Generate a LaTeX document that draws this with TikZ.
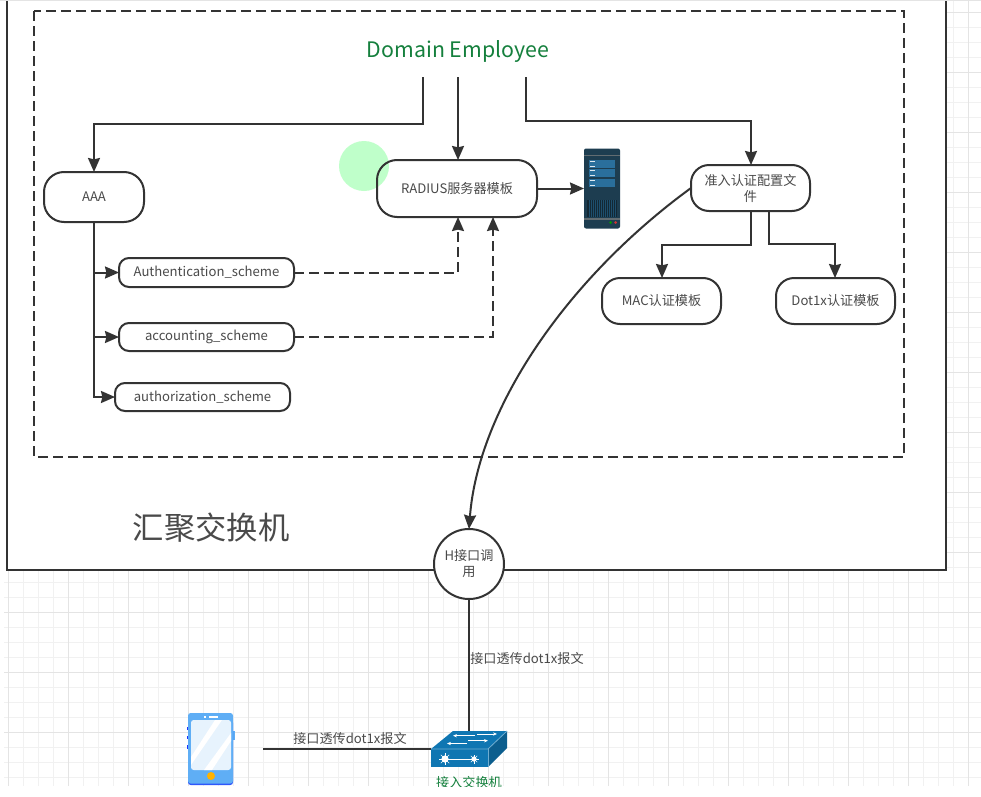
\documentclass[tikz,border=0pt]{standalone}
\usepackage{fontspec}
\setmainfont{Noto Sans CJK SC}
\usepackage{xcolor}
\usetikzlibrary{shapes,arrows.meta}
\definecolor{inkgray}{HTML}{333333}
\definecolor{textgray}{HTML}{4A4A4A}
\definecolor{titlegreen}{HTML}{15803D}
\definecolor{haloGreen}{HTML}{BFFFCA}
\definecolor{gridminor}{HTML}{F1F1F1}
\definecolor{gridmajor}{HTML}{E4E4E4}
\definecolor{serverblue}{HTML}{1D3D50}
\definecolor{serverbar}{HTML}{2A6F9C}
\definecolor{switchblue}{HTML}{0F76B2}
\definecolor{phoneblue}{HTML}{5FAEF5}
\newcommand{\lowline}[1]{\raisebox{-1.25pt}{#1}}
\begin{document}
\begin{tikzpicture}[x=0.75pt,y=-0.75pt,
    every node/.style={text=textgray,font=\fontsize{9.85}{12}\selectfont,outer sep=0pt,inner sep=0pt},
    pill/.style={draw=inkgray,line width=1.5pt,rounded corners=#1,align=center},
    pill/.default=15pt,
    wire/.style={draw=inkgray,line width=1.5pt},
    arr/.style={wire,-{Stealth[length=10.5pt,width=9pt,inset=1pt]}},
    dashwire/.style={arr,dash pattern=on 7.5pt off 3.75pt}]
    \useasboundingbox (0,0) rectangle (981,796);
    % canvas grid
    \foreach \gx in {8,23,...,983} {\draw[gridminor,line width=0.75pt] (\gx,0) -- (\gx,786);}
    \foreach \gy in {12,27,...,786} {\draw[gridminor,line width=0.75pt] (4,\gy) -- (981,\gy);}
    \foreach \gx in {8,68,...,983} {\draw[gridmajor,line width=0.75pt] (\gx,0) -- (\gx,786);}
    \foreach \gy in {12,72,...,786} {\draw[gridmajor,line width=0.75pt] (4,\gy) -- (981,\gy);}
    \fill[white] (0,0) rectangle (7,570);
    \fill[gridmajor] (0,0) rectangle (981,1);
    % switch box and dashed box
    \draw[wire,fill=white] (7,1) -- (7,570) -- (946,570) -- (946,1);
    \draw[wire,dash pattern=on 7.5pt off 3.75pt] (34,11) rectangle (904,457);
    \fill[haloGreen] (364,166) circle (25);
    \node[text=titlegreen,font=\fontsize{16}{18}\selectfont] (domain) at (458,52) {Domain Employee};
    \node[font=\fontsize{23.5}{26}\selectfont] (aggr) at (211,528) {汇聚交换机};
    \node[pill=15pt,minimum width=75pt,minimum height=37.5pt] (aaa) at (94,197) {\lowline{AAA}};
    \node[pill=15pt,minimum width=120pt,minimum height=42.75pt] (radius) at (457,188.5) {\lowline{RADIUS服务器模板}};
    \node[pill=7.5pt,minimum width=131.25pt,minimum height=21.75pt] (authn) at (206.5,272.5) {\lowline{Authentication\_scheme}};
    \node[pill=7.5pt,minimum width=131.25pt,minimum height=21pt] (acct) at (206.5,337) {\lowline{accounting\_scheme}};
    \node[pill=7.5pt,minimum width=131.25pt,minimum height=21pt] (authz) at (202.5,397) {\lowline{authorization\_scheme}};
    \node[pill=13.5pt,minimum width=89.25pt,minimum height=34.5pt] (access) at (750.5,188) {\lowline{准入认证配置文}\\\lowline{件}};
    \node[pill=13.5pt,minimum width=89.25pt,minimum height=34.5pt] (mac) at (661.5,301) {\lowline{MAC认证模板}};
    \node[pill=13.5pt,minimum width=89.25pt,minimum height=34.5pt] (dot1x) at (835.5,301) {\lowline{Dot1x认证模板}};
    \node[draw=inkgray,fill=white,line width=1.5pt,circle,minimum size=52.5pt,align=center] (hcall) at (469,564) {\lowline{H接口调}\\\lowline{用}};
    % server
    \node[fill=serverblue,rounded corners=1.5pt,minimum width=27pt,minimum height=60pt] (server) at (602,188.5) {};
    \fill[gray!70!serverblue] (584,154.5) rectangle (620,156);
    \foreach \by in {160,169,179} {
        \fill[serverbar] (589,\by) rectangle (615,\by+3.5);
        \fill[serverbar] (589,\by+4.3) rectangle (615,\by+7.8);
        \fill[white!85!serverbar] (590,\by+1.2) rectangle (594.5,\by+2.2);
        \fill[white!85!serverbar] (590,\by+5.5) rectangle (594.5,\by+6.5);
    }
    \fill[black!35!serverblue] (587,200) rectangle (617,217);
    \foreach \bx in {589,591,...,616} {\draw[serverbar!70!black,line width=0.4pt] (\bx,200) -- (\bx,217);}
    \fill[gray!70!serverblue] (584,217.5) rectangle (620,219.5);
    \fill[green!60!black] (610.5,222.5) circle (1.5);
    \fill[red!60!gray] (615.5,222.5) circle (1.5);
    % phone
    \fill[blue!70!phoneblue] (187,726.5) rectangle (189,730);
    \fill[blue!70!phoneblue] (187,735.5) rectangle (189,739);
    \fill[blue!70!phoneblue] (187,745) rectangle (189,748.5);
    \fill[phoneblue] (232,731) rectangle (235,739.5);
    \fill[blue!50!phoneblue,rounded corners=2pt] (188,720) rectangle (233,785);
    \fill[phoneblue,rounded corners=2pt] (188,713) rectangle (233,783.5);
    \fill[white!85!phoneblue,rounded corners=2pt] (191,720) rectangle (231,770);
    \fill[white] (191,757) -- (215,720) -- (222,720) -- (191,765) -- cycle;
    \fill[white] (204,770) -- (231,733) -- (231,741) -- (212,770) -- cycle;
    \fill[white] (204,716) rectangle (206,717.5);
    \fill[white] (209,716) rectangle (218,717.5);
    \fill[orange!60!yellow] (211,776) circle (4);
    % access switch
    \node[minimum width=57pt,minimum height=27pt] (switch) at (469,749) {};
    \fill[switchblue] (431,749) -- (453,731) -- (507,731) -- (488,749) -- cycle;
    \fill[switchblue!80!black] (488,749) -- (507,731) -- (507,748) -- (488,767) -- cycle;
    \fill[switchblue] (431,749) rectangle (488,767);
    \draw[white!40!switchblue,line width=0.6pt] (431,749) -- (488,749) -- (507,731);
    \draw[white!40!switchblue,line width=0.6pt] (488,749) -- (488,767);
    \foreach \ax/\ay/\bx in {475/735.7/453,477/734/497,467/743.5/447,468/740.7/488} {
        \draw[white,line width=0.6pt,-{Stealth[length=3pt,width=2.5pt]}] (\ax,\ay) -- (\bx,\ay);
    }
    \draw[white,line width=0.7pt] (445,759) -- (474,759);
    \fill[white] (445,759) circle (3.6);
    \fill[white] (474,759) circle (2.6);
    \foreach \ang in {0,45,...,315} {
        \draw[white,line width=0.5pt] (445,759) -- ++(\ang:6);
        \draw[white,line width=0.5pt] (474,759) -- ++(\ang:4.5);
    }
    \node[text=titlegreen] (switchlabel) at (469,782) {接入交换机};
    % free ends
    \coordinate (domL) at (423,77);
    \coordinate (domM) at (458,77);
    \coordinate (domR) at (526,77);
    \coordinate (radA) at (458,217);
    \coordinate (radB) at (493,217);
    \coordinate (radT) at (458,160);
    \coordinate (accT) at (751,165);
    \coordinate (accL) at (751,211);
    \coordinate (accR) at (769,211);
    \coordinate (macT) at (662,278);
    \coordinate (dotT) at (835,278);
    \coordinate (phoneEnd) at (263,749);
    % connectors
    \draw[arr] (domL) |- (94,124) -- (aaa.north);
    \draw[arr] (domM) -- (radT);
    \draw[arr] (domR) |- (751,121) -- (accT);
    \draw[arr] (aaa.south) |- (authz.west);
    \draw[arr] (94,272.5) -- (authn.west);
    \draw[arr] (94,337) -- (acct.west);
    \draw[dashwire] (authn.east) -| (radA);
    \draw[dashwire] (acct.east) -| (radB);
    \draw[arr] (radius.east) -- (server.west);
    \draw[arr] (accL) |- (662,245) -- (macT);
    \draw[arr] (accR) |- (835,244) -- (dotT);
    \draw[arr] (access.west) .. controls (565,280) and (478,410) .. (hcall.north);
    \draw[wire] (hcall.south) -- (switch.north);
    \draw[wire] (phoneEnd) -- (switch.west);
    \node (uplabel) at (527,658) {接口透传dot1x报文};
    \node (phonelabel) at (350,738) {接口透传dot1x报文};
    % page edge
    \fill[white] (0,786.5) rectangle (981,796);
\end{tikzpicture}
\end{document}
